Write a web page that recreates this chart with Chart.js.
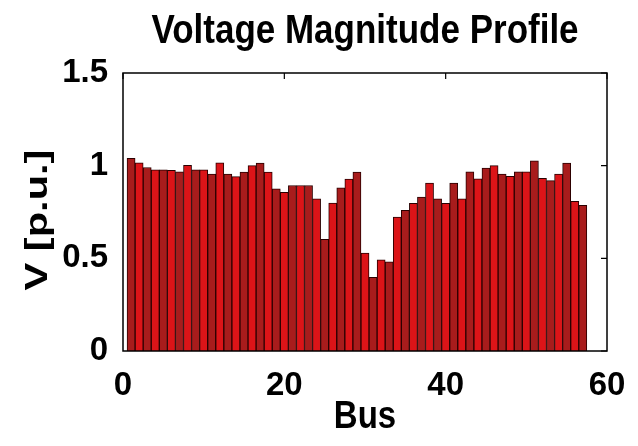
<!DOCTYPE html>
<html>
<head>
<meta charset="utf-8">
<script src="https://cdn.jsdelivr.net/npm/chart.js@4.4.1/dist/chart.umd.min.js"></script>
<style>
  body { margin: 0; background: #fff; }
  #wrap { width: 638px; height: 446px; }
</style>
</head>
<body>
<div id="wrap"><canvas id="vchart" width="638" height="446"></canvas></div>
<script>
// bus numbers and voltage magnitudes
const buses = [];
for (let b = 1; b <= 57; b++) buses.push(b);
const voltages = [
  1.04, 1.015, 0.99, 0.978, 0.977, 0.975, 0.967, 1.002, 0.977, 0.977,
  0.954, 1.015, 0.954, 0.941, 0.966, 1.0, 1.014, 0.966, 0.875, 0.856,
  0.893, 0.893, 0.893, 0.821, 0.602, 0.798, 0.88, 0.928, 0.966, 0.528,
  0.397, 0.492, 0.481, 0.723, 0.759, 0.797, 0.83, 0.906, 0.821, 0.797,
  0.906, 0.821, 0.967, 0.929, 0.987, 1.0, 0.954, 0.942, 0.967, 0.967,
  1.026, 0.931, 0.919, 0.954, 1.014, 0.807, 0.786
];
const xTicks = [0, 20, 40, 60];
const yTicks = [0, 0.5, 1, 1.5];

const chartTitle = "Voltage Magnitude Profile";
const xLabel = "Bus";
const yLabel = "V [p.u.]";

const FONT = "'Liberation Sans', Arial, sans-serif";

const barColors = buses.map((b, i) => (i % 2 === 0 ? "#a81c1c" : "#dc1418"));

// matlab style box, inward ticks, and the (slightly stretched) titles
const boxPlugin = {
  id: "matlabBox",
  afterDraw(chart) {
    const { ctx, chartArea: a, scales } = chart;
    ctx.save();
    ctx.strokeStyle = "#000";
    ctx.lineWidth = 1.5;
    ctx.strokeRect(a.left, a.top, a.right - a.left, a.bottom - a.top);
    ctx.lineWidth = 1.2;
    ctx.beginPath();
    xTicks.forEach((t) => {
      const px = scales.x.getPixelForValue(t);
      ctx.moveTo(px, a.top);
      ctx.lineTo(px, a.top + 6);
    });
    yTicks.forEach((t) => {
      const py = scales.y.getPixelForValue(t);
      ctx.moveTo(a.right, py);
      ctx.lineTo(a.right - 6, py);
    });
    ctx.stroke();

    const cx = (a.left + a.right) / 2;
    const cy = (a.top + a.bottom) / 2;
    ctx.fillStyle = "#000";
    ctx.textAlign = "center";
    ctx.textBaseline = "alphabetic";

    ctx.save();
    ctx.translate(cx, 43);
    ctx.scale(1, 1.18);
    ctx.font = "bold 35px " + FONT;
    ctx.fillText(chartTitle, 0, 0);
    ctx.restore();

    ctx.save();
    ctx.translate(cx, 428);
    ctx.scale(1, 1.2);
    ctx.font = "bold 33px " + FONT;
    ctx.fillText(xLabel, 0, 0);
    ctx.restore();

    ctx.save();
    ctx.translate(47, cy + 8);
    ctx.rotate(-Math.PI / 2);
    ctx.scale(1.3, 1);
    ctx.font = "bold 32px " + FONT;
    ctx.fillText(yLabel, 0, 0);
    ctx.restore();

    ctx.restore();
  },
};

new Chart(document.getElementById("vchart"), {
  type: "bar",
  data: {
    datasets: [
      {
        data: buses.map((b, i) => ({ x: b, y: voltages[i] })),
        backgroundColor: barColors,
        borderColor: "#2a0000",
        borderWidth: 1,
        barPercentage: 1,
        categoryPercentage: 1,
      },
    ],
  },
  options: {
    responsive: false,
    animation: false,
    layout: { padding: { top: 73, right: 31, left: 0, bottom: 0 } },
    plugins: {
      legend: { display: false },
      tooltip: { enabled: false },
    },
    scales: {
      x: {
        type: "linear",
        min: 0,
        max: 60,
        offset: false,
        afterBuildTicks: (s) => { s.ticks = xTicks.map((v) => ({ value: v })); },
        afterFit: (s) => { s.height = 95; },
        grid: { display: false },
        border: { display: false },
        ticks: {
          color: "#000",
          font: { family: FONT, size: 33, weight: "bold" },
          padding: 7,
          maxRotation: 0,
        },
      },
      y: {
        min: 0,
        max: 1.5,
        afterBuildTicks: (s) => { s.ticks = yTicks.map((v) => ({ value: v })); },
        afterFit: (s) => { s.width = 123; },
        grid: { display: false },
        border: { display: false },
        ticks: {
          color: "#000",
          font: { family: FONT, size: 33, weight: "bold" },
          padding: 7,
          callback: (v) => String(v),
        },
      },
    },
  },
  plugins: [boxPlugin],
});
</script>
</body>
</html>
